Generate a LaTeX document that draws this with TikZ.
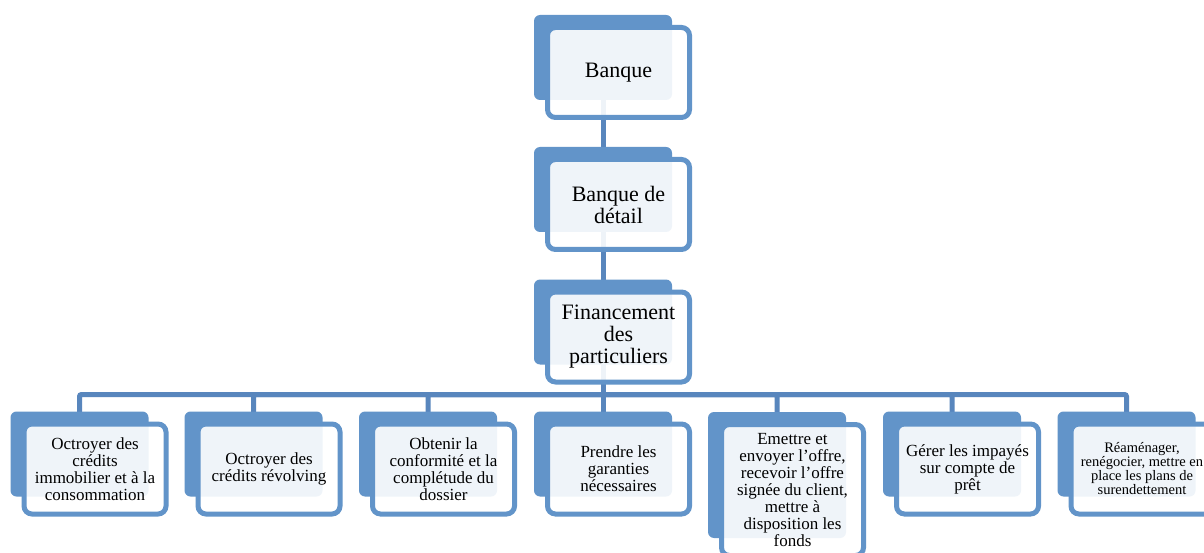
\documentclass[tikz,border=0pt]{standalone}
\usepackage{fontspec}
\setmainfont{Liberation Serif}
\usetikzlibrary{calc}
\definecolor{boxblue}{RGB}{98,148,201}
\definecolor{linkblue}{RGB}{88,134,189}
\pgfdeclarelayer{paper}
\pgfdeclarelayer{bg}
\pgfsetlayers{paper,bg,main}
\tikzset{
  backbox/.style={fill=boxblue, draw=none, rounded corners=6pt, minimum width=138pt, minimum height=85pt, inner sep=0pt, outer sep=0pt},
  frontbox/.style={fill=white, fill opacity=0.9, text opacity=1, draw=boxblue, draw opacity=1, line width=5pt, rounded corners=8pt, minimum width=142pt, minimum height=90pt, inner sep=0pt, outer sep=0pt, align=center, font=\fontsize{17}{17}\selectfont},
  topfont/.style={font=\fontsize{22}{22}\selectfont},
  smallfont/.style={font=\fontsize{14.5}{14}\selectfont},
  conn/.style={draw=linkblue, line width=5pt, rounded corners=2pt},
}
\begin{document}
\begin{tikzpicture}[x=1pt,y=-1pt]
\useasboundingbox (0,0) rectangle (1204,553);
\clip (0,0) rectangle (1204,553);
\begin{pgfonlayer}{paper}
\fill[white] (0,0) rectangle (1204,553);
\end{pgfonlayer}
% top chain
\node[backbox] (b1) at (603,57.5) {};
\node[frontbox, topfont] (f1) at ($(b1)+(15.5,15)$) {Banque};
\node[backbox] (b2) at (603,189.5) {};
\node[frontbox, topfont] (f2) at ($(b2)+(15.5,15)$) {Banque de\\détail};
\node[backbox] (b3) at (603,322) {};
\node[frontbox, topfont] (f3) at ($(b3)+(15.5,15)$) {Financement\\des\\particuliers};
% bottom row
\node[backbox] (k1) at (79.5,454) {};
\node[frontbox] (g1) at ($(k1)+(15.5,15)$) {Octroyer des\\crédits\\immobilier et à la\\consommation};
\node[backbox] (k2) at (253.5,454) {};
\node[frontbox] (g2) at ($(k2)+(15.5,15)$) {Octroyer des\\crédits révolving};
\node[backbox] (k3) at (428,454) {};
\node[frontbox] (g3) at ($(k3)+(15.5,15)$) {Obtenir la\\conformité et la\\complétude du\\dossier};
\node[backbox] (k4) at (603,454) {};
\node[frontbox] (g4) at ($(k4)+(15.5,15)$) {Prendre les\\garanties\\nécessaires};
\node[backbox, minimum height=126pt] (k5) at (777,475) {};
\node[frontbox, minimum height=131pt] (g5) at ($(k5)+(15.5,15)$) {Emettre et\\envoyer l’offre,\\recevoir l’offre\\signée du client,\\mettre à\\disposition les\\fonds};
\node[backbox] (k6) at (952,454) {};
\node[frontbox] (g6) at ($(k6)+(15.5,15)$) {Gérer les impayés\\sur compte de\\prêt};
\node[backbox] (k7) at (1126.5,454) {};
\node[frontbox, smallfont] (g7) at ($(k7)+(15.5,15)$) {Réaménager,\\renégocier, mettre en\\place les plans de\\surendettement};
% connectors
\begin{pgfonlayer}{bg}
\draw[conn] (b1.center) -- (b2.center);
\draw[conn] (b2.center) -- (b3.center);
\coordinate (bus) at (603,394.5);
\draw[conn] (b3.center) -- (bus);
\foreach \i in {1,...,7} \draw[conn] (bus) -| (k\i.center);
\end{pgfonlayer}
\end{tikzpicture}
\end{document}
